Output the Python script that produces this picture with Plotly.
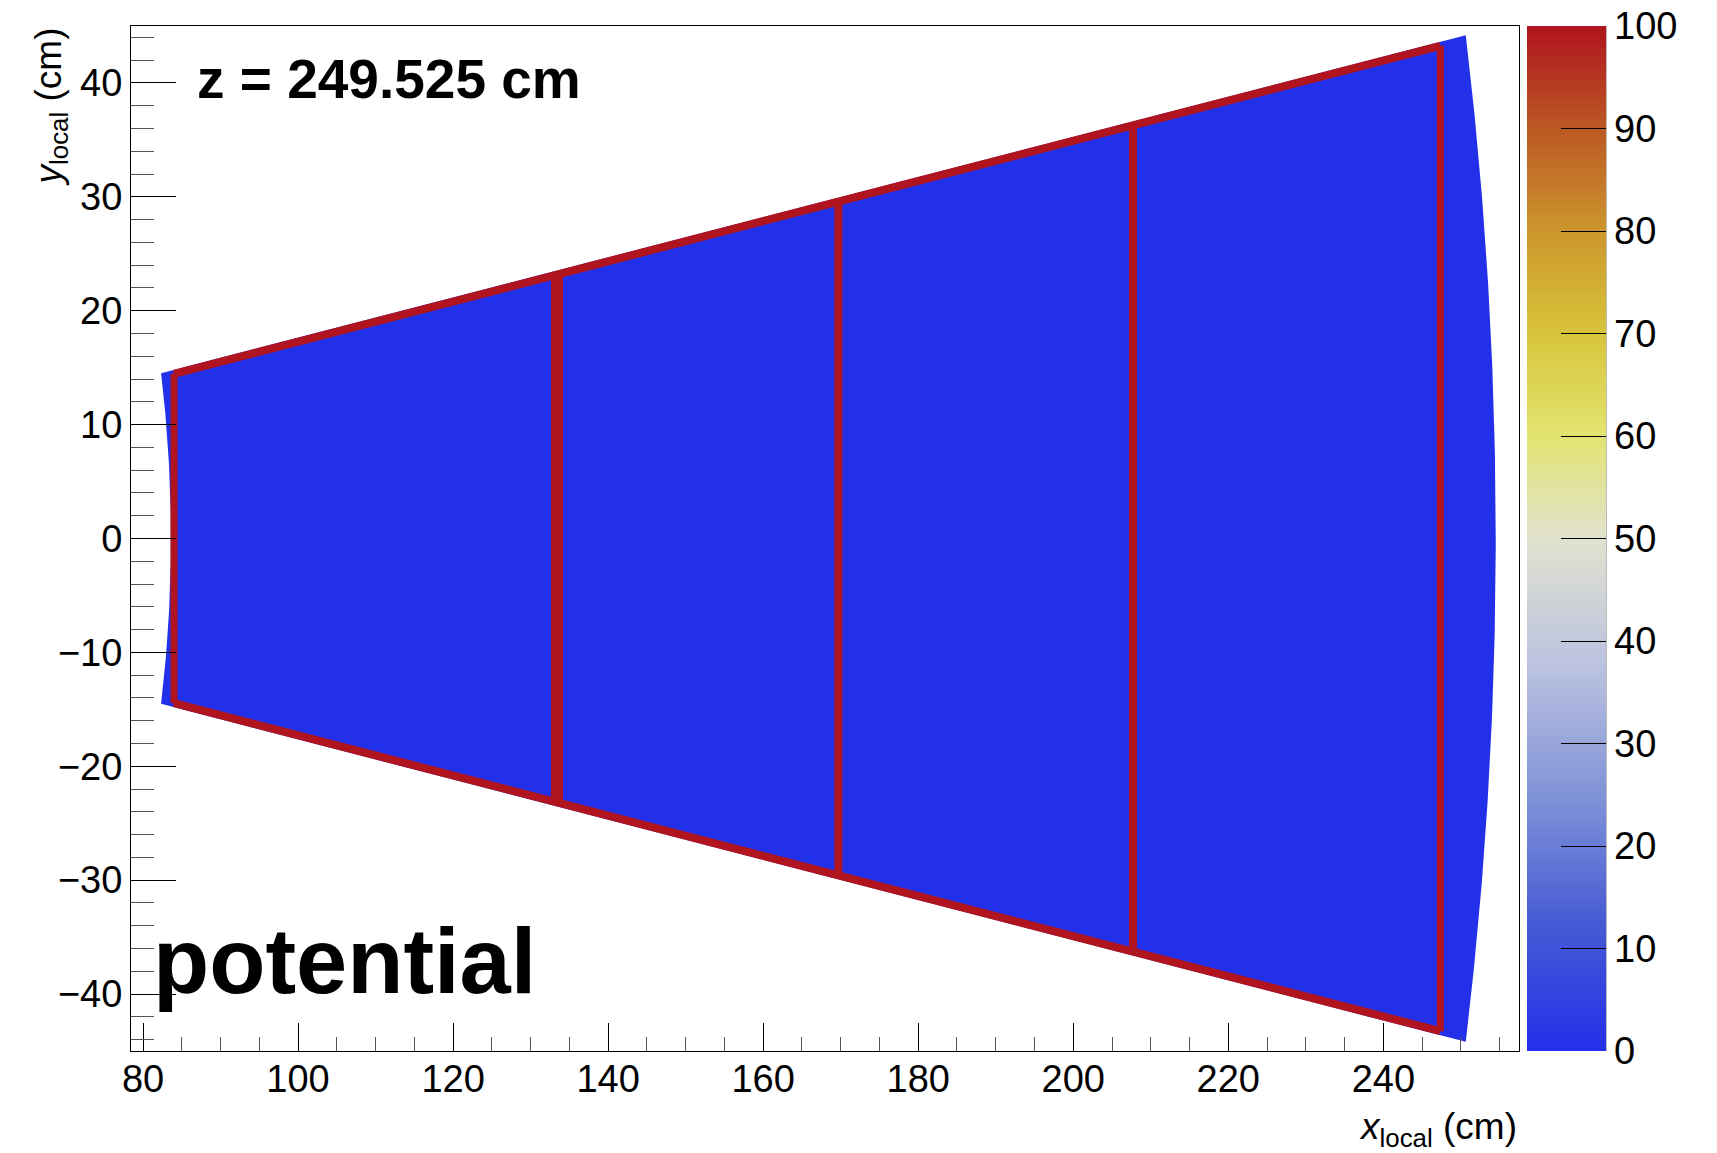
import numpy as np
import plotly.graph_objects as go

# ---------------- data ----------------
z_position_cm = 249.525
sector_half_angle_deg = 10.0
r_inner_cm = 83.6
r_outer_cm = 254.5
electrode_x_cm = [84.0, 133.4, 169.7, 207.7, 247.35]
electrode_edge_inset_cm = 0.35
potential_bulk = 0.0
potential_electrode = 100.0
x_tick_vals = [80, 100, 120, 140, 160, 180, 200, 220, 240]
y_tick_vals = [-40, -30, -20, -10, 0, 10, 20, 30, 40]
cbar_tick_vals = [0, 10, 20, 30, 40, 50, 60, 70, 80, 90, 100]
cbar_range = [0.0, 100.0]
x_range = [78.45, 257.5]
y_range = [-45.0, 45.0]

# palette
pal_stops = [0.0, 0.125, 0.25, 0.375, 0.5, 0.6, 0.7, 0.8, 0.9, 1.0]
pal_red = [34, 70, 129, 187, 225, 226, 216, 204, 188, 176]
pal_green = [48, 91, 147, 194, 226, 228, 196, 150, 88, 20]
pal_blue = [234, 212, 216, 224, 206, 112, 58, 45, 36, 30]

# ---------------- style ----------------
electrode_line_px = [7, 12, 8, 8, 7]
edge_line_px = 8
FONT = "Liberation Sans, Arial, Helvetica, sans-serif"
BODY = 8  # default page margin of the html body
W, H = 1717 - BODY, 1153 - BODY
L, T = 131 - BODY, 26 - BODY
plot_w, plot_h = 1388, 1025
R = W - L - plot_w
B = H - T - plot_h

colorscale = [[s, f"rgb({r},{g},{b})"] for s, r, g, b in zip(pal_stops, pal_red, pal_green, pal_blue)]


def color_at(v, vmin=0.0, vmax=100.0):
    f = (v - vmin) / (vmax - vmin)
    r = np.interp(f, pal_stops, pal_red)
    g = np.interp(f, pal_stops, pal_green)
    b = np.interp(f, pal_stops, pal_blue)
    return f"rgb({round(r)},{round(g)},{round(b)})"


bulk_color = color_at(potential_bulk)
elec_color = color_at(potential_electrode)

fig = go.Figure()

# sector (bulk region)
phi = np.radians(sector_half_angle_deg)
th_in = np.linspace(-phi, phi, 80)
th_out = np.linspace(phi, -phi, 200)
sx = np.concatenate([r_inner_cm * np.cos(th_in), r_outer_cm * np.cos(th_out), [r_inner_cm * np.cos(-phi)]])
sy = np.concatenate([r_inner_cm * np.sin(th_in), r_outer_cm * np.sin(th_out), [r_inner_cm * np.sin(-phi)]])
fig.add_trace(go.Scatter(x=sx, y=sy, mode="lines", fill="toself", fillcolor=bulk_color,
                         line=dict(width=0, color=bulk_color), hoverinfo="skip", showlegend=False))

tanp = np.tan(phi)
ex = np.array(electrode_x_cm)
# top and bottom electrode edges
for sgn in (1, -1):
    yy = sgn * (ex[[0, -1]] * tanp - electrode_edge_inset_cm)
    fig.add_trace(go.Scatter(x=ex[[0, -1]], y=yy, mode="lines",
                             line=dict(color=elec_color, width=edge_line_px),
                             hoverinfo="skip", showlegend=False))
# vertical electrodes
for xv, w in zip(electrode_x_cm, electrode_line_px):
    yt = xv * tanp - electrode_edge_inset_cm
    fig.add_trace(go.Scatter(x=[xv, xv], y=[-yt, yt], mode="lines",
                             line=dict(color=elec_color, width=w),
                             hoverinfo="skip", showlegend=False))

# colour bar carrier
cb_left_px = 1527 - BODY
cb_right_px = 1606 - BODY
fig.add_trace(go.Scatter(
    x=[r_inner_cm], y=[0], mode="markers", hoverinfo="skip", showlegend=False,
    marker=dict(size=1, opacity=0, color=[potential_bulk],
                cmin=cbar_range[0], cmax=cbar_range[1],
                colorscale=colorscale, showscale=True,
                colorbar=dict(
                    x=(cb_left_px - L) / plot_w, xanchor="left", xpad=0,
                    y=0.5, yanchor="middle", ypad=0, len=1, lenmode="fraction",
                    thickness=cb_right_px - cb_left_px, thicknessmode="pixels",
                    outlinewidth=0, tickmode="array", tickvals=cbar_tick_vals,
                    ticklabeloverflow="allow",
                    ticks="inside", ticklen=45, tickcolor="black", tickwidth=1,
                    tickfont=dict(family=FONT, size=38, color="black"),
                ))))

axis_common = dict(showgrid=False, zeroline=False, showline=True, linecolor="black",
                   linewidth=1, mirror=True, ticks="inside", tickcolor="black",
                   tickfont=dict(family=FONT, size=38, color="black"))

fig.update_xaxes(range=x_range, tickmode="array", tickvals=x_tick_vals, ticklen=28,
                 ticklabelstandoff=-6,
                 minor=dict(dtick=5, tick0=0, ticks="inside", ticklen=14, tickcolor="#555"),
                 **axis_common)
fig.update_yaxes(range=y_range, tickmode="array", tickvals=y_tick_vals, ticklen=45,
                 minor=dict(dtick=2, tick0=0, ticks="inside", ticklen=23, tickcolor="#555"),
                 **axis_common)

annotations = [
    dict(text=f"<b>z = {z_position_cm} cm</b>", x=(195 - 131) / plot_w, y=0.948,
         xref="paper", yref="paper", xanchor="left", yanchor="middle", showarrow=False,
         font=dict(family=FONT, size=55, color="black")),
    dict(text="<b>potential</b>", x=(151 - 131) / plot_w, y=0.088,
         xref="paper", yref="paper", xanchor="left", yanchor="middle", showarrow=False,
         font=dict(family=FONT, size=92, color="black")),
    dict(text="<i>y</i><sub>local</sub> (cm)", x=(50 - 131) / plot_w, y=1.0,
         xref="paper", yref="paper", xanchor="center", yanchor="top", textangle=-90,
         showarrow=False, font=dict(family=FONT, size=37, color="black")),
    dict(text="<i>x</i><sub>local</sub> (cm)", x=1.0, y=-0.076,
         xref="paper", yref="paper", xanchor="right", yanchor="middle",
         showarrow=False, font=dict(family=FONT, size=37, color="black")),
]

shapes = [dict(type="line", xref="paper", yref="paper",
               x0=(cb_right_px - L) / plot_w, x1=(cb_right_px - L) / plot_w, y0=0, y1=1,
               line=dict(color="#777", width=1))]

fig.update_layout(width=W, height=H, margin=dict(l=L, r=R, t=T, b=B, autoexpand=False),
                  paper_bgcolor="white", plot_bgcolor="white",
                  annotations=annotations, shapes=shapes, font=dict(family=FONT))

fig.write_html("out.html")
